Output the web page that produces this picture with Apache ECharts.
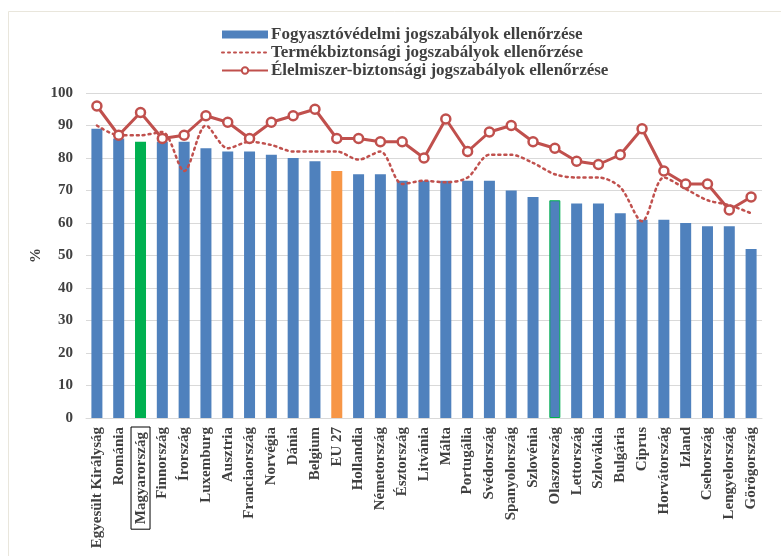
<!DOCTYPE html>
<html>
<head>
<meta charset="utf-8">
<script src="https://cdn.jsdelivr.net/npm/echarts@6/dist/echarts.min.js"></script>
<style>
html,body{margin:0;padding:0;background:#fff;}
#chart{width:781px;height:556px;}
</style>
</head>
<body>
<div id="chart"></div>
<script>
const categories = ["Egyesült Királyság","Románia","Magyarország","Finnország","Írország","Luxemburg","Ausztria","Franciaország","Norvégia","Dánia","Belgium","EU 27","Hollandia","Németország","Észtország","Litvánia","Málta","Portugália","Svédország","Spanyolország","Szlovénia","Olaszország","Lettország","Szlovákia","Bulgária","Ciprus","Horvátország","Izland","Csehország","Lengyelország","Görögország"];
const consumerValues = [89,86,85,85,85,83,82,82,81,80,79,76,75,75,73,73,73,73,73,70,68,67,66,66,63,61,61,60,59,59,52];
const productValues = [90,87,87,88,76,90,83,85,84,82,82,82,79.5,82,72,73,72.5,74,81,81,78.5,75,74,74,71,60.5,74,70.5,67,65.5,63];
const foodValues = [96,87,94,86,87,93,91,86,91,93,95,86,86,85,85,80,92,82,88,90,85,83,79,78,81,89,76,72,72,64,68];
const yTicks = [0,10,20,30,40,50,60,70,80,90,100];
const seriesNames = ["Fogyasztóvédelmi jogszabályok ellenőrzése","Termékbiztonsági jogszabályok ellenőrzése","Élelmiszer-biztonsági jogszabályok ellenőrzése"];

const BLUE = '#4F81BD', GREEN = '#00B050', ORANGE = '#F79646', RED = '#C0504D';
const FONT = '"Liberation Serif", "Times New Roman", serif';

const barData = consumerValues.map((v, i) => {
  const c = categories[i];
  if (c === 'Magyarország') return {value: v, itemStyle: {color: GREEN}};
  if (c === 'EU 27') return {value: v, itemStyle: {color: ORANGE}};
  if (c === 'Olaszország') return {value: v, itemStyle: {color: BLUE, borderColor: GREEN, borderWidth: 1}};
  return v;
});

const chart = echarts.init(document.getElementById('chart'), null, {renderer: 'canvas'});
chart.setOption({
  backgroundColor: '#fff',
  animation: false,
  graphic: [{
    type: 'polyline',
    shape: {points: [[8.5, 556], [8.5, 11.5], [781, 11.5]]},
    style: {stroke: '#e9e6dc', lineWidth: 1, fill: null},
    silent: true
  }],
  legend: {
    orient: 'vertical',
    left: 216,
    top: 21,
    itemGap: 1,
    itemWidth: 46,
    itemHeight: 8,
    textStyle: {fontFamily: FONT, fontWeight: 'bold', fontSize: 17, color: '#404040', padding: [0,0,0,-2]},
    data: [
      {name: seriesNames[0], icon: 'rect'},
      {name: seriesNames[1], itemStyle: {opacity: 0}},
      {name: seriesNames[2]}
    ]
  },
  grid: {left: 86, right: 19, top: 93, bottom: 138, containLabel: false},
  xAxis: {
    type: 'category',
    data: categories,
    axisLine: {show: true, lineStyle: {color: '#d9d9d9', width: 1}},
    axisTick: {show: false},
    axisLabel: {
      rotate: 90,
      interval: 0,
      margin: 9,
      fontFamily: FONT,
      fontWeight: 'bold',
      fontSize: 15,
      color: '#404040',
      formatter: function (v) { return v === 'Magyarország' ? '{box|' + v + '}' : v; },
      rich: {
        box: {
          fontFamily: FONT, fontWeight: 'bold', fontSize: 15, color: '#404040',
          borderColor: '#000', borderWidth: 1, padding: [3, 5, 1, 5]
        }
      }
    }
  },
  yAxis: {
    type: 'value',
    min: yTicks[0],
    max: yTicks[yTicks.length - 1],
    interval: 10,
    name: '%',
    nameLocation: 'middle',
    nameRotate: 90,
    nameGap: 42,
    nameMoveOverlap: false,
    nameTextStyle: {fontFamily: FONT, fontWeight: 'bold', fontSize: 15, color: '#404040'},
    axisLine: {show: false},
    axisTick: {show: false},
    axisLabel: {fontFamily: FONT, fontWeight: 'bold', fontSize: 15, color: '#404040', margin: 13},
    splitLine: {lineStyle: {color: '#d9d9d9', width: 1}}
  },
  series: [
    {
      name: seriesNames[0],
      type: 'bar',
      data: barData,
      barWidth: 11,
      itemStyle: {color: BLUE}
    },
    {
      name: seriesNames[1],
      type: 'line',
      data: productValues,
      smooth: 0.3,
      symbol: 'none',
      lineStyle: {color: RED, width: 2.5, type: [2, 4], cap: 'round'},
      itemStyle: {color: RED},
      z: 3
    },
    {
      name: seriesNames[2],
      type: 'line',
      data: foodValues,
      symbol: 'circle',
      symbolSize: 9,
      lineStyle: {color: RED, width: 3},
      itemStyle: {color: '#fff', borderColor: RED, borderWidth: 2.5},
      z: 4
    }
  ]
});
</script>
</body>
</html>
